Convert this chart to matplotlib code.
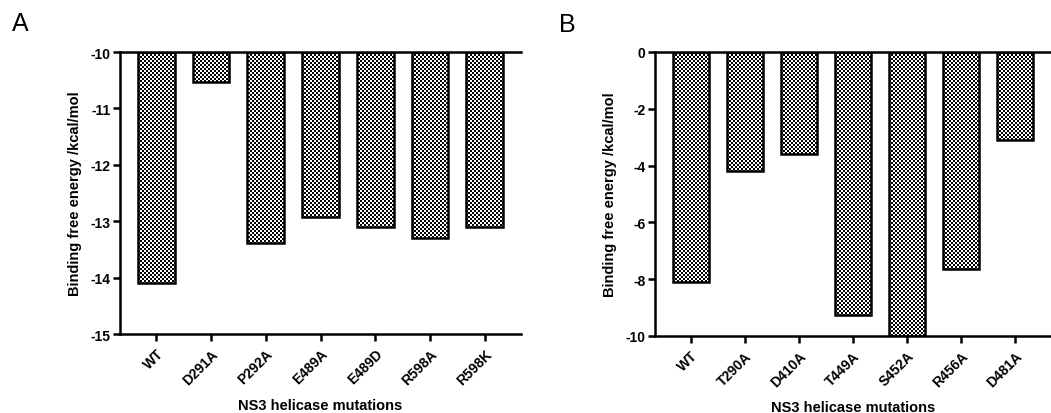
import matplotlib
matplotlib.use("Agg")
import matplotlib.pyplot as plt
import numpy as np

plt.rcParams['font.family'] = ['Liberation Sans', 'DejaVu Sans']

cats_a = ["WT", "D291A", "P292A", "E489A", "E489D", "R598A", "R598K"]
vals_a = [-14.1, -10.54, -13.39, -12.93, -13.1, -13.3, -13.1]
yticks_a = [-10, -11, -12, -13, -14, -15]

cats_b = ["WT", "T290A", "D410A", "T449A", "S452A", "R456A", "D481A"]
vals_b = [-8.1, -4.2, -3.6, -9.27, -10.0, -7.65, -3.1]
yticks_b = [0, -2, -4, -6, -8, -10]

ylabel = "Binding free energy /kcal/mol"
xlabel = "NS3 helicase mutations"

W, H, DPI = 10.51, 4.14, 100
WP, HP = 1051, 414
fig = plt.figure(figsize=(W, H), dpi=DPI)


def px_axes(left, bottom, width, height):
    return fig.add_axes([left / WP, bottom / HP, width / WP, height / HP])


boxA = (120, 79, 401, 282)
boxB = (655, 77, 396, 284)
axA = px_axes(*boxA)
axB = px_axes(*boxB)


def draw(ax, cats, vals, yticks, box):
    top = max(yticks)
    bot = min(yticks)
    x = np.arange(len(cats))
    heights = [v - top for v in vals]
    xlo, xhi = -0.66, len(cats) - 1 + 0.66
    ax.set_xlim(xlo, xhi)
    ax.set_ylim(bot, top)
    ax.patch.set_visible(False)
    bars = ax.bar(x, heights, bottom=top, width=0.67, facecolor='none',
                  edgecolor='black', linewidth=1.8, zorder=3)
    # checkerboard fill (2-pixel cells), drawn pixel-exact behind the axes
    left, bottom, pw, ph = box
    yy, xx = np.mgrid[0:ph + 4, 0:pw + 4]
    board = (((xx // 2) + (yy // 2)) % 2).astype(float)
    for b in bars:
        im = fig.figimage(board, xo=left - 2, yo=bottom - 2, cmap='gray',
                          vmin=0, vmax=1, origin='lower', zorder=-1)
        im.set_clip_path(b)
    ax.set_yticks(yticks)
    ax.set_yticklabels([str(t) for t in yticks], fontsize=10, fontweight='bold')
    ax.set_xticks(x)
    ax.set_xticklabels(cats, rotation=45, ha='right', rotation_mode='anchor',
                       fontsize=10, fontweight='bold')
    ax.tick_params(axis='both', direction='out', length=5, width=1.8, pad=2)
    ax.tick_params(axis='x', pad=4)
    for s in ['left', 'bottom', 'top']:
        ax.spines[s].set_linewidth(1.8)
    ax.spines['right'].set_visible(False)
    ax.set_ylabel(ylabel, fontsize=10.5, fontweight='bold', labelpad=6)
    ax.set_xlabel(xlabel, fontsize=10.5, fontweight='bold', labelpad=8)


draw(axA, cats_a, vals_a, yticks_a, boxA)
draw(axB, cats_b, vals_b, yticks_b, boxB)

fig.text(0.011, 0.942, "A", fontsize=18, ha='left', va='center')
fig.text(0.532, 0.94, "B", fontsize=18, ha='left', va='center')

fig.savefig("out.png", dpi=DPI)
